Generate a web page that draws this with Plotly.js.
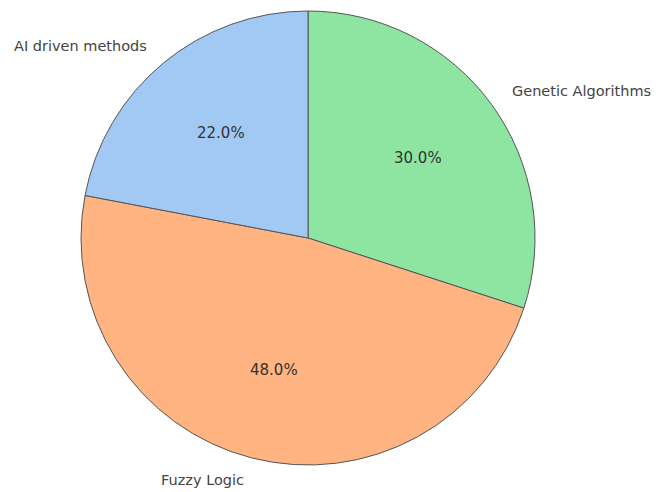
<!DOCTYPE html>
<html>
<head>
<meta charset="utf-8">
<script src="https://cdn.plot.ly/plotly-3.0.1.min.js"></script>
<style>html,body{margin:0;padding:0;background:#fff;}#chart{width:656px;height:492px;}</style>
</head>
<body>
<div id="chart"></div>
<script>
var categories = ["Genetic Algorithms", "Fuzzy Logic", "AI driven methods"];
var shares = [30.0, 48.0, 22.0];
var sliceColors = ["#8de5a1", "#ffb482", "#a1c9f4"];

var W = 656, H = 492;
var cx = 308, cy = 238, R = 227;
var dom = {
  x: [(cx - R) / W, (cx + R) / W],
  y: [(H - cy - R) / H, (H - cy + R) / H]
};

var total = shares.reduce(function(a, b) { return a + b; }, 0);
var annotations = [];
var start = 90;
for (var i = 0; i < shares.length; i++) {
  var sweep = shares[i] / total * 360;
  var mid = (start - sweep / 2) * Math.PI / 180;
  start -= sweep;
  var lx = cx + 1.1 * R * Math.cos(mid), ly = cy - 1.1 * R * Math.sin(mid);
  var px = cx + 0.6 * R * Math.cos(mid), py = cy - 0.6 * R * Math.sin(mid);
  annotations.push({
    xref: "paper", yref: "paper", x: lx / W, y: 1 - ly / H,
    text: categories[i], showarrow: false,
    xanchor: Math.cos(mid) >= 0 ? "left" : "right", yanchor: "middle",
    font: {family: "DejaVu Sans, sans-serif", size: 14.5, color: "#444"}
  });
  annotations.push({
    xref: "paper", yref: "paper", x: px / W, y: 1 - py / H,
    text: (shares[i] / total * 100).toFixed(1) + "%", showarrow: false,
    xanchor: "center", yanchor: "middle",
    font: {family: "DejaVu Sans, sans-serif", size: 15, color: "#333"}
  });
}

var trace = {
  type: "pie",
  labels: categories,
  values: shares,
  sort: false,
  direction: "clockwise",
  rotation: 0,
  textinfo: "none",
  hoverinfo: "label+percent",
  marker: {colors: sliceColors, line: {color: "#555", width: 1}},
  domain: dom,
  showlegend: false
};

var layout = {
  width: W, height: H,
  margin: {l: 0, r: 0, t: 0, b: 0},
  paper_bgcolor: "#fff",
  showlegend: false,
  annotations: annotations
};

Plotly.newPlot("chart", [trace], layout, {displayModeBar: false, staticPlot: true});
</script>
</body>
</html>
